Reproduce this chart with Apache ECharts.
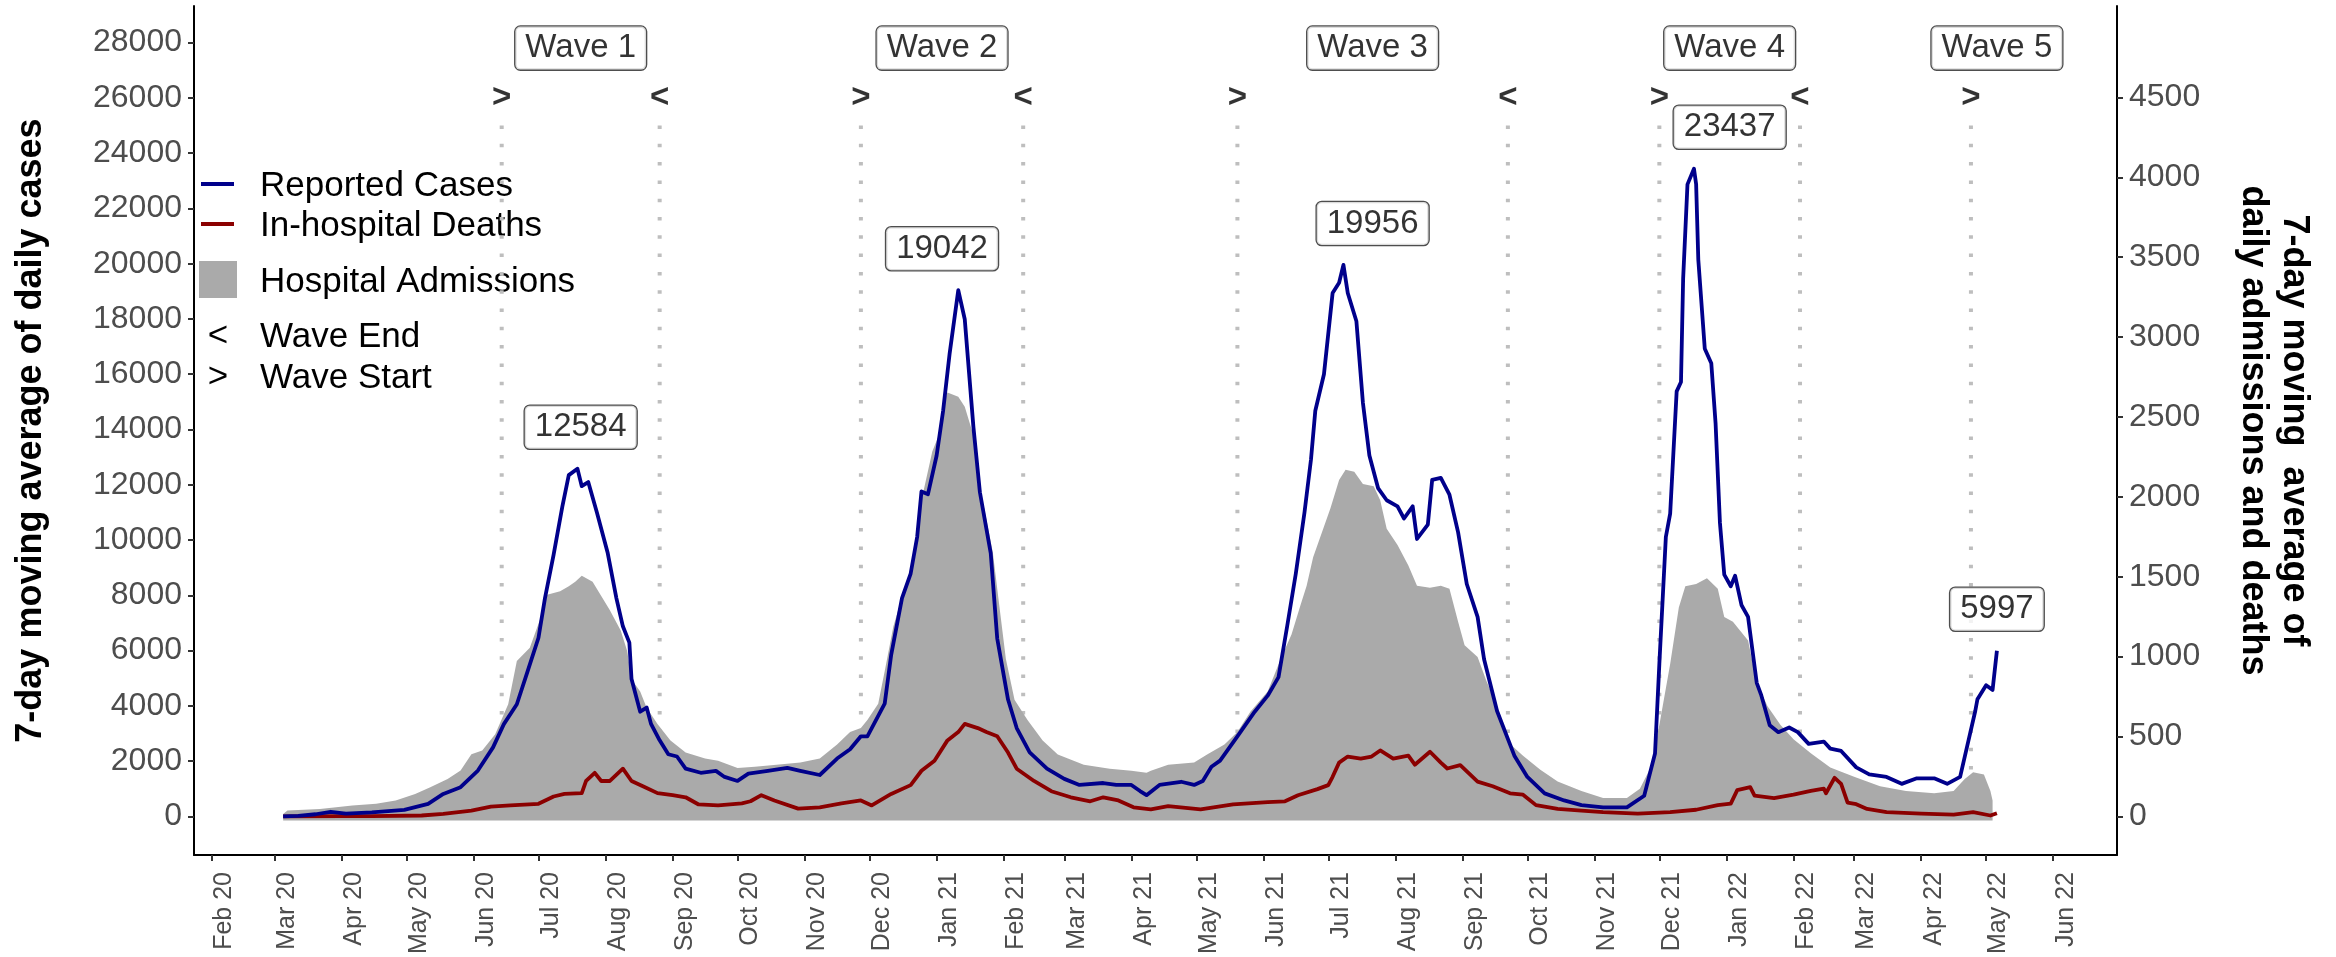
<!DOCTYPE html>
<html>
<head>
<meta charset="utf-8">
<script src="https://cdn.jsdelivr.net/npm/echarts@6/dist/echarts.min.js"></script>
<style>
html,body{margin:0;padding:0;background:#fff;}
#chart{width:2336px;height:957px;}
</style>
</head>
<body>
<div id="chart"></div>
<script>
// ---------------- DATA ----------------
const monthTicks = ['2020-02-01','2020-03-01','2020-04-01','2020-05-01','2020-06-01','2020-07-01','2020-08-01','2020-09-01','2020-10-01','2020-11-01','2020-12-01',
  '2021-01-01','2021-02-01','2021-03-01','2021-04-01','2021-05-01','2021-06-01','2021-07-01','2021-08-01','2021-09-01','2021-10-01','2021-11-01','2021-12-01',
  '2022-01-01','2022-02-01','2022-03-01','2022-04-01','2022-05-01','2022-06-01'];
const caseTicks = [0,2000,4000,6000,8000,10000,12000,14000,16000,18000,20000,22000,24000,26000,28000];
const rightTicks = [0,500,1000,1500,2000,2500,3000,3500,4000,4500];

const reportedCases = [['2020-03-05',0],['2020-03-12',20],['2020-03-20',80],['2020-03-27',170],['2020-04-03',100],['2020-04-15',150],['2020-04-30',240],['2020-05-11',455],['2020-05-18',815],['2020-05-26',1060],['2020-06-03',1660],['2020-06-10',2500],['2020-06-15',3340],['2020-06-21',4060],['2020-06-26',5260],['2020-07-01',6465],['2020-07-04',7900],['2020-07-08',9470],['2020-07-12',11200],['2020-07-15',12350],['2020-07-19',12584],['2020-07-21',11950],['2020-07-24',12100],['2020-07-28',11000],['2020-08-02',9530],['2020-08-06',7900],['2020-08-09',6880],['2020-08-12',6290],['2020-08-13',4970],['2020-08-17',3790],['2020-08-20',3940],['2020-08-22',3350],['2020-08-26',2755],['2020-08-30',2250],['2020-09-03',2170],['2020-09-07',1730],['2020-09-14',1580],['2020-09-21',1650],['2020-09-25',1430],['2020-10-01',1285],['2020-10-06',1550],['2020-10-15',1650],['2020-10-24',1760],['2020-10-30',1650],['2020-11-08',1500],['2020-11-16',2095],['2020-11-22',2430],['2020-11-27',2900],['2020-11-30',2900],['2020-12-08',4080],['2020-12-11',5850],['2020-12-16',7900],['2020-12-20',8790],['2020-12-23',10110],['2020-12-25',11760],['2020-12-28',11660],['2021-01-01',13060],['2021-01-04',14680],['2021-01-07',16740],['2021-01-11',19042],['2021-01-14',17990],['2021-01-18',14090],['2021-01-21',11730],['2021-01-26',9530],['2021-01-29',6440],['2021-02-03',4230],['2021-02-07',3200],['2021-02-13',2315],['2021-02-21',1730],['2021-03-01',1360],['2021-03-08',1140],['2021-03-19',1210],['2021-03-25',1140],['2021-04-01',1140],['2021-04-05',920],['2021-04-08',770],['2021-04-14',1140],['2021-04-24',1255],['2021-04-30',1140],['2021-05-04',1285],['2021-05-08',1800],['2021-05-12',2020],['2021-05-20',2900],['2021-05-28',3790],['2021-06-03',4370],['2021-06-08',5040],['2021-06-12',6880],['2021-06-16',8790],['2021-06-20',11000],['2021-06-23',12910],['2021-06-25',14680],['2021-06-29',16000],['2021-07-03',18940],['2021-07-06',19310],['2021-07-08',19956],['2021-07-10',18940],['2021-07-14',17915],['2021-07-17',14970],['2021-07-20',13060],['2021-07-24',11880],['2021-07-28',11440],['2021-08-02',11220],['2021-08-05',10780],['2021-08-09',11220],['2021-08-11',10040],['2021-08-16',10560],['2021-08-18',12175],['2021-08-22',12250],['2021-08-26',11640],['2021-08-30',10280],['2021-09-03',8410],['2021-09-08',7220],['2021-09-11',5690],['2021-09-17',3815],['2021-09-25',2200],['2021-10-01',1430],['2021-10-09',836],['2021-10-18',580],['2021-10-26',410],['2021-11-05',330],['2021-11-16',330],['2021-11-24',750],['2021-11-29',2280],['2021-12-01',5520],['2021-12-04',10110],['2021-12-06',10960],['2021-12-09',15380],['2021-12-11',15720],['2021-12-12',19470],['2021-12-14',22870],['2021-12-17',23437],['2021-12-18',22870],['2021-12-19',20150],['2021-12-22',16920],['2021-12-25',16400],['2021-12-27',14200],['2021-12-29',10620],['2021-12-31',8750],['2022-01-03',8330],['2022-01-05',8710],['2022-01-08',7640],['2022-01-11',7220],['2022-01-15',4835],['2022-01-17',4410],['2022-01-21',3300],['2022-01-25',3050],['2022-01-30',3220],['2022-02-03',3050],['2022-02-08',2625],['2022-02-15',2710],['2022-02-18',2455],['2022-02-23',2370],['2022-03-02',1775],['2022-03-08',1520],['2022-03-16',1430],['2022-03-23',1180],['2022-03-30',1380],['2022-04-07',1380],['2022-04-13',1180],['2022-04-19',1430],['2022-04-22',2455],['2022-04-26',3815],['2022-04-27',4240],['2022-05-01',4750],['2022-05-04',4580],['2022-05-06',5997]];

const hospitalDeaths = [['2020-03-05',0],['2020-04-01',2],['2020-04-15',2],['2020-05-08',6],['2020-05-18',16],['2020-05-31',37],['2020-06-09',62],['2020-06-18',69],['2020-07-01',79],['2020-07-08',125],['2020-07-13',141],['2020-07-21',146],['2020-07-23',222],['2020-07-27',273],['2020-07-30',222],['2020-08-03',222],['2020-08-09',299],['2020-08-13',222],['2020-08-19',184],['2020-08-25',146],['2020-09-01',133],['2020-09-07',120],['2020-09-13',75],['2020-09-22',69],['2020-10-03',82],['2020-10-07',95],['2020-10-12',133],['2020-10-18',100],['2020-10-29',49],['2020-11-08',57],['2020-11-18',82],['2020-11-27',100],['2020-12-02',69],['2020-12-11',141],['2020-12-20',196],['2020-12-25',286],['2020-12-31',349],['2021-01-06',476],['2021-01-11',528],['2021-01-14',579],['2021-01-20',553],['2021-01-24',528],['2021-01-29',502],['2021-02-03',400],['2021-02-07',299],['2021-02-15',222],['2021-02-23',158],['2021-03-04',120],['2021-03-13',95],['2021-03-19',120],['2021-03-26',100],['2021-04-02',57],['2021-04-10',44],['2021-04-18',64],['2021-05-03',44],['2021-05-18',75],['2021-06-03',90],['2021-06-11',95],['2021-06-17',133],['2021-06-26',171],['2021-07-01',196],['2021-07-03',248],['2021-07-06',337],['2021-07-10',375],['2021-07-16',362],['2021-07-21',375],['2021-07-25',413],['2021-07-31',362],['2021-08-07',380],['2021-08-10',324],['2021-08-17',405],['2021-08-22',337],['2021-08-25',300],['2021-08-31',321],['2021-09-08',218],['2021-09-15',189],['2021-09-23',145],['2021-09-29',136],['2021-10-05',71],['2021-10-15',47],['2021-10-26',36],['2021-11-05',27],['2021-11-21',18],['2021-12-06',27],['2021-12-18',42],['2021-12-28',71],['2022-01-03',80],['2022-01-06',165],['2022-01-12',183],['2022-01-14',130],['2022-01-23',115],['2022-02-01',136],['2022-02-09',160],['2022-02-15',174],['2022-02-16',145],['2022-02-20',242],['2022-02-23',204],['2022-02-26',86],['2022-03-02',77],['2022-03-07',47],['2022-03-16',27],['2022-04-01',18],['2022-04-16',12],['2022-04-25',27],['2022-05-03',6],['2022-05-06',20]];

const hospitalAdmissions = [['2020-03-05',16],['2020-03-07',37],['2020-03-22',47],['2020-04-06',69],['2020-04-17',79],['2020-04-26',100],['2020-05-05',141],['2020-05-12',183],['2020-05-20',234],['2020-05-26',287],['2020-05-31',390],['2020-06-05',412],['2020-06-11',515],['2020-06-17',702],['2020-06-21',973],['2020-06-27',1056],['2020-07-02',1243],['2020-07-05',1388],['2020-07-11',1409],['2020-07-15',1440],['2020-07-18',1469],['2020-07-21',1507],['2020-07-26',1469],['2020-07-30',1380],['2020-08-03',1291],['2020-08-08',1164],['2020-08-11',1036],['2020-08-13',859],['2020-08-17',782],['2020-08-20',680],['2020-08-25',579],['2020-08-31',476],['2020-09-07',400],['2020-09-16',362],['2020-09-22',349],['2020-10-01',304],['2020-10-09',311],['2020-10-19',324],['2020-10-30',337],['2020-11-08',362],['2020-11-16',451],['2020-11-22',528],['2020-11-27',553],['2020-11-30',604],['2020-12-05',706],['2020-12-08',909],['2020-12-12',1189],['2020-12-17',1419],['2020-12-22',1622],['2020-12-25',1979],['2020-12-30',2284],['2021-01-02',2386],['2021-01-05',2615],['2021-01-06',2653],['2021-01-11',2627],['2021-01-14',2564],['2021-01-18',2386],['2021-01-20',2080],['2021-01-23',1928],['2021-01-27',1648],['2021-01-30',1316],['2021-02-02',986],['2021-02-06',731],['2021-02-12',604],['2021-02-19',476],['2021-02-26',388],['2021-03-10',324],['2021-03-22',299],['2021-04-01',286],['2021-04-08',273],['2021-04-10',286],['2021-04-18',324],['2021-04-30',337],['2021-05-06',388],['2021-05-14',451],['2021-05-20',528],['2021-05-26',655],['2021-06-03',782],['2021-06-09',986],['2021-06-14',1139],['2021-06-18',1316],['2021-06-21',1444],['2021-06-24',1622],['2021-06-28',1775],['2021-07-02',1928],['2021-07-06',2106],['2021-07-09',2169],['2021-07-13',2157],['2021-07-17',2080],['2021-07-22',2067],['2021-07-25',1979],['2021-07-28',1800],['2021-08-02',1699],['2021-08-07',1571],['2021-08-11',1444],['2021-08-17',1431],['2021-08-22',1444],['2021-08-26',1425],['2021-08-30',1219],['2021-09-02',1072],['2021-09-08',998],['2021-09-12',851],['2021-09-17',689],['2021-09-23',454],['2021-09-29',380],['2021-10-07',292],['2021-10-15',218],['2021-10-26',160],['2021-11-05',115],['2021-11-16',115],['2021-11-22',174],['2021-11-27',307],['2021-12-01',572],['2021-12-06',954],['2021-12-10',1307],['2021-12-13',1440],['2021-12-18',1454],['2021-12-23',1490],['2021-12-28',1425],['2021-12-31',1248],['2022-01-04',1219],['2022-01-11',1101],['2022-01-15',836],['2022-01-20',689],['2022-01-26',572],['2022-02-01',483],['2022-02-09',395],['2022-02-18',307],['2022-03-01',248],['2022-03-13',189],['2022-03-25',160],['2022-04-07',145],['2022-04-16',160],['2022-04-21',233],['2022-04-25',277],['2022-04-30',263],['2022-05-03',160],['2022-05-04',100]];

const waveNames = ['Wave 1','Wave 2','Wave 3','Wave 4','Wave 5'];
const waveStarts = ['2020-06-14','2020-11-27','2021-05-20','2021-12-01','2022-04-24'];
const waveEnds = ['2020-08-26','2021-02-10','2021-09-22','2022-02-04',null];
const openWaveEnd = '2022-05-18';
const wavePeaks = [12584, 19042, 19956, 23437, 5997];

// ---------------- HELPERS ----------------
const FONT = '"Liberation Sans", Arial, Helvetica, sans-serif';
const MONTHS = ['Jan','Feb','Mar','Apr','May','Jun','Jul','Aug','Sep','Oct','Nov','Dec'];
const DAY = 86400000;
function ts(s){ const p = s.split('-').map(Number); return new Date(p[0], p[1]-1, p[2]).getTime(); }
const toXY = arr => arr.map(r => [ts(r[0]), r[1]]);
const tickTs = monthTicks.map(ts);
const origin = ts('2020-02-01');
const xMin = origin - 8.2 * DAY;
const xMax = origin + 880.5 * DAY;

const waveMid = waveStarts.map((s, i) => (ts(s) + ts(waveEnds[i] || openWaveEnd)) / 2);

// ---------------- SERIES ----------------
const series = [];
const boundaryDates = waveStarts.concat(waveEnds.filter(Boolean));
boundaryDates.forEach(d => {
  series.push({
    type: 'line', yAxisIndex: 0, z: 1, silent: true, symbol: 'none', animation: false,
    data: [[ts(d), 25000], [ts(d), 0]],
    lineStyle: { color: '#BEBEBE', width: 4, type: [3.5, 14.8], cap: 'butt' }
  });
});
series.push({
  name: 'Hospital Admissions', type: 'line', yAxisIndex: 1, z: 2, symbol: 'none', animation: false,
  data: toXY(hospitalAdmissions),
  lineStyle: { width: 0 },
  areaStyle: { color: '#AAAAAA', opacity: 1, origin: -25 }
});
series.push({
  name: 'In-hospital Deaths', type: 'line', yAxisIndex: 1, z: 3, symbol: 'none', animation: false,
  data: toXY(hospitalDeaths),
  lineStyle: { color: '#8B0000', width: 3.8, join: 'round' }
});
series.push({
  name: 'Reported Cases', type: 'line', yAxisIndex: 0, z: 4, symbol: 'none', animation: false,
  data: toXY(reportedCases),
  lineStyle: { color: '#00008B', width: 3.8, join: 'round' }
});
const boxLabel = {
  show: true, position: 'inside', formatter: p => p.value[2],
  fontFamily: FONT, fontSize: 33, color: '#000', backgroundColor: '#fff',
  borderColor: '#222', borderWidth: 1.3, borderRadius: 5, padding: [5, 10]
};
series.push({
  type: 'scatter', yAxisIndex: 0, z: 6, symbolSize: 1, itemStyle: { color: 'rgba(0,0,0,0)' }, animation: false, silent: true,
  data: waveNames.map((n, i) => [waveMid[i], 27800, n]),
  label: boxLabel
});
series.push({
  type: 'scatter', yAxisIndex: 0, z: 6, symbolSize: 1, itemStyle: { color: 'rgba(0,0,0,0)' }, animation: false, silent: true,
  data: wavePeaks.map((v, i) => [waveMid[i], v + 1500, String(v)]),
  label: boxLabel
});
const markers = waveStarts.map(d => [ts(d), 26000, '>']).concat(
  waveEnds.filter(Boolean).map(d => [ts(d), 26000, '<']));
series.push({
  type: 'scatter', yAxisIndex: 0, z: 6, symbolSize: 1, itemStyle: { color: 'rgba(0,0,0,0)' }, animation: false, silent: true,
  data: markers,
  label: { show: true, position: 'inside', formatter: p => p.value[2], fontFamily: FONT, fontSize: 33, fontWeight: 'bold', color: '#000' }
});

// ---------------- LEGEND (drawn) ----------------
const legendFont = { fontFamily: FONT, fontSize: 35, fill: '#000', verticalAlign: 'middle' };
const graphic = [
  { type: 'line', shape: { x1: 201, y1: 184, x2: 234, y2: 184 }, style: { stroke: '#00008B', lineWidth: 4 } },
  { type: 'text', x: 260, y: 186, style: Object.assign({ text: 'Reported Cases' }, legendFont) },
  { type: 'line', shape: { x1: 201, y1: 224, x2: 234, y2: 224 }, style: { stroke: '#8B0000', lineWidth: 4 } },
  { type: 'text', x: 260, y: 226, style: Object.assign({ text: 'In-hospital Deaths' }, legendFont) },
  { type: 'rect', shape: { x: 199, y: 261, width: 38, height: 37 }, style: { fill: '#AAAAAA' } },
  { type: 'text', x: 260, y: 282, style: Object.assign({ text: 'Hospital Admissions' }, legendFont) },
  { type: 'text', x: 218, y: 336, style: Object.assign({ text: '<', align: 'center' }, legendFont) },
  { type: 'text', x: 260, y: 337, style: Object.assign({ text: 'Wave End' }, legendFont) },
  { type: 'text', x: 218, y: 377, style: Object.assign({ text: '>', align: 'center' }, legendFont) },
  { type: 'text', x: 260, y: 378, style: Object.assign({ text: 'Wave Start' }, legendFont) }
];

// ---------------- CHART ----------------
const plain = v => String(v);
const chart = echarts.init(document.getElementById('chart'), null, { renderer: 'canvas' });
chart.setOption({
  animation: false,
  backgroundColor: '#fff',
  textStyle: { fontFamily: FONT },
  grid: { left: 194, right: 219, top: 6, bottom: 99, containLabel: false },
  xAxis: {
    type: 'value', min: xMin, max: xMax, scale: true,
    axisLine: { show: true, onZero: false, lineStyle: { color: '#000', width: 2 } },
    axisTick: { show: true, customValues: tickTs, length: 6, lineStyle: { color: '#333', width: 2 } },
    axisLabel: {
      show: true, customValues: tickTs, rotate: 90, margin: 17, verticalAlign: 'top',
      fontFamily: FONT, fontSize: 25, color: '#4D4D4D',
      formatter: v => { const d = new Date(v); return MONTHS[d.getMonth()] + ' ' + String(d.getFullYear()).slice(2); }
    },
    splitLine: { show: false }
  },
  yAxis: [
    {
      type: 'value', position: 'left', min: -1395, max: 29323,
      name: '7-day moving average of daily cases', nameLocation: 'middle', nameRotate: 90, nameGap: 145,
      nameTextStyle: { fontFamily: FONT, fontSize: 36, fontWeight: 'bold', color: '#000' },
      axisLine: { show: true, onZero: false, lineStyle: { color: '#000', width: 2 } },
      axisTick: { show: true, customValues: caseTicks, length: 6, lineStyle: { color: '#333', width: 2 } },
      axisLabel: { show: true, customValues: caseTicks, formatter: plain, margin: 12, fontFamily: FONT, fontSize: 32, color: '#4D4D4D' },
      splitLine: { show: false }
    },
    {
      type: 'value', position: 'right', min: -241.3, max: 5071.7,
      name: '7-day moving  average of\ndaily admissions and deaths', nameLocation: 'middle', nameRotate: -90, nameGap: 115,
      nameTextStyle: { fontFamily: FONT, fontSize: 36, fontWeight: 'bold', color: '#000', lineHeight: 41, align: 'center' },
      axisLine: { show: true, onZero: false, lineStyle: { color: '#000', width: 2 } },
      axisTick: { show: true, customValues: rightTicks, length: 6, lineStyle: { color: '#333', width: 2 } },
      axisLabel: { show: true, customValues: rightTicks, formatter: plain, margin: 12, fontFamily: FONT, fontSize: 32, color: '#4D4D4D' },
      splitLine: { show: false }
    }
  ],
  graphic: graphic,
  series: series
});
</script>
</body>
</html>
